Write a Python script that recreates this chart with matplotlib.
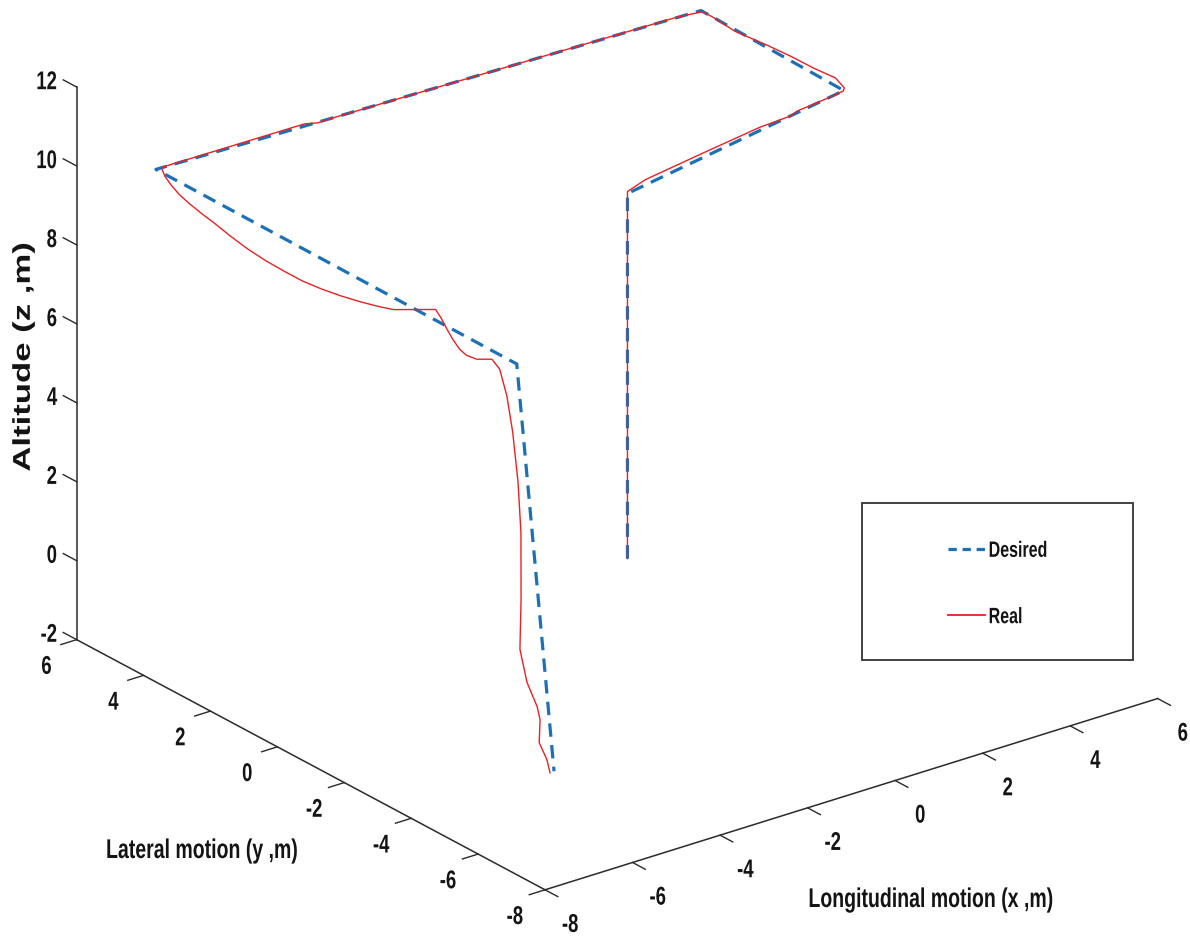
import numpy as np
import matplotlib
matplotlib.use("Agg")
import matplotlib.pyplot as plt
from matplotlib.lines import Line2D
from matplotlib.patches import Rectangle
from matplotlib.patheffects import AbstractPathEffect
from matplotlib.transforms import Affine2D
from mpl_toolkits.mplot3d import proj3d

# Desired trajectory waypoints (m)
desired_x = [0.0, 0.0, 5.9, 6.0, -6.15, -6.2, -6.8]
desired_y = [0.0, 0.0, 1.25, 5.65, 6.05, -4.8, -6.7]
desired_z = [0.0, 9.25, 9.25, 9.25, 9.25, 9.25, 0.0]

# Measured (real) flight path (m)
real_x = [0.0, 0.0, 0.63, 2.10, 3.70, 4.44, 4.67, 5.53, 5.88, 5.98, 6.12, 6.07,
          6.06, 6.02, 5.93, 5.99, 6.00, 5.50, -2.28, -2.56, -2.78, -6.02,
          -6.21, -6.36, -6.49, -6.59, -6.68, -6.76, -6.87, -6.97, -7.03, -7.05,
          -7.05, -6.99, -6.90, -6.78, -6.64, -6.51, -5.90, -6.04, -6.27, -6.46,
          -6.63, -6.69, -6.65, -6.43,
          -6.33, -6.28, -6.30, -6.40, -6.54, -6.82, -7.06, -7.02,
          -6.88, -6.89, -7.01, -6.91, -6.90]
real_y = [0.0, 0.0, 0.29, 0.58, 0.88, 0.94, 1.04, 1.17, 1.24, 1.34, 1.79, 2.38,
          3.05, 3.69, 4.54, 5.22, 5.59, 5.68, 5.92, 5.91, 6.02, 6.06,
          5.70, 5.31, 4.91, 4.48, 4.00, 3.50, 2.91, 2.27, 1.65, 1.05,
          0.49, 0.00, -0.45, -0.87, -1.25, -1.52, -1.98, -2.32, -2.81, -3.23,
          -3.66, -3.94, -4.19, -4.36,
          -4.46, -4.61, -4.81, -5.10, -5.37, -5.74, -6.02, -6.18,
          -6.30, -6.40, -6.53, -6.63, -6.71]
real_z = [0.0, 9.30, 9.25, 9.25, 9.25, 9.25, 9.25, 9.25, 9.25, 9.25, 9.25, 9.25,
          9.25, 9.25, 9.25, 9.25, 9.25, 9.25, 9.25, 9.25, 9.25, 9.25,
          9.25, 9.25, 9.25, 9.25, 9.25, 9.25, 9.25, 9.25, 9.25, 9.25,
          9.25, 9.25, 9.25, 9.25, 9.25, 9.25, 9.25, 9.25, 9.25, 9.25,
          9.25, 9.25, 9.25, 9.25,
          9.01, 8.38, 7.56, 6.46, 5.36, 3.92, 2.87, 2.09,
          1.48, 1.20, 0.72, 0.30, 0.0]

x_ticks = [-8, -6, -4, -2, 0, 2, 4, 6]
y_ticks = [-8, -6, -4, -2, 0, 2, 4, 6]
z_ticks = [-2, 0, 2, 4, 6, 8, 10, 12]

x_label = "Longitudinal motion (x ,m)"
y_label = "Lateral motion (y ,m)"
z_label = "Altitude (z ,m)"
legend_labels = ["Desired", "Real"]

W, H = 1190, 938
FONT = ["Liberation Sans", "DejaVu Sans"]
BLUE = "#1c70b6"
RED = "#ec2024"
AXC = "#2b2b2b"
TXT = "#141414"
DASH = (4.2, 2.6)
SQ = 0.72


class Squeeze(AbstractPathEffect):
    """Draw text glyphs compressed along (or across) the writing direction."""

    def __init__(self, factor, anchor="center", across=False):
        super().__init__()
        self._f = factor
        self._anchor = anchor
        self._across = across

    def draw_path(self, renderer, gc, tpath, affine, rgbFace=None):
        ext = tpath.get_extents()
        if self._across:
            c = 0.5 * (ext.y0 + ext.y1)
            pre = Affine2D().translate(0, -c).scale(1, self._f).translate(0, c)
        else:
            c = {"left": ext.x0, "center": 0.5 * (ext.x0 + ext.x1),
                 "right": ext.x1}[self._anchor]
            pre = Affine2D().translate(-c, 0).scale(self._f, 1).translate(c, 0)
        renderer.draw_path(gc, tpath, pre + affine, rgbFace)


fig = plt.figure(figsize=(W / 100, H / 100), dpi=100, facecolor="white")
ax = fig.add_axes([0, 0, 1, 1], projection="3d", proj_type="ortho",
                  computed_zorder=False)
ax.view_init(elev=24.1, azim=-127.4)
ax.set_box_aspect((1, 1, 0.785))
ax.set_xlim(x_ticks[0], x_ticks[-1])
ax.set_ylim(y_ticks[0], y_ticks[-1])
ax.set_zlim(z_ticks[0], z_ticks[-1])
ax.set_axis_off()

x0, x1 = x_ticks[0], x_ticks[-1]
y0, y1 = y_ticks[0], y_ticks[-1]
z0, z1 = z_ticks[0], z_ticks[-1]

# axis lines (MATLAB-style box corner)
ax.plot([x0, x0], [y1, y1], [z0, z1], color=AXC, lw=1.1, zorder=1)
ax.plot([x0, x0], [y1, y0], [z0, z0], color=AXC, lw=1.1, zorder=1)
ax.plot([x0, x1], [y0, y0], [z0, z0], color=AXC, lw=1.1, zorder=1)
for v in z_ticks:
    ax.plot([x0, x0], [y1, y1 + 0.40], [v, v], color=AXC, lw=1.0, zorder=1)
for v in y_ticks:
    ax.plot([x0, x0 - 0.36], [v, v], [z0, z0], color=AXC, lw=1.0, zorder=1)
for v in x_ticks:
    ax.plot([v, v], [y0, y0 - 0.38], [z0, z0], color=AXC, lw=1.0, zorder=1)

# trajectories
ax.plot(desired_x, desired_y, desired_z, color=BLUE, lw=2.3, dashes=DASH, zorder=3)
ax.plot(real_x, real_y, real_z, color=RED, lw=1.0, zorder=4)

# place the plot box so that its corners land at the intended pixels
fig.canvas.draw()
ref_pts = np.array([[x0, y0, z0], [x1, y0, z0], [x0, y1, z0], [x0, y1, z1]], float)
targets = np.array([[545, H - 890], [1157, H - 701], [77, H - 638], [77, H - 86]], float)


def project(pts):
    pts = np.asarray(pts, float)
    xs, ys, _ = proj3d.proj_transform(pts[:, 0], pts[:, 1], pts[:, 2], ax.get_proj())
    return ax.transData.transform(np.column_stack([xs, ys]))


p = project(ref_pts)
pc = p - p.mean(0)
tc = targets - targets.mean(0)
s = (pc * tc).sum() / (pc ** 2).sum()
t = targets.mean(0) - s * p.mean(0)
bb = ax.get_position()
L, B, side = bb.x0 * W, bb.y0 * H, bb.width * W
ax.set_position([(s * L + t[0]) / W, (s * B + t[1]) / H, s * side / W, s * side / H])

# tick labels, anchored at projected points beside each tick
tick_kw = dict(family=FONT, weight="bold", size=18.5, color=TXT, va="center")


def tick_label(pt, text, ha):
    d = project([pt])[0]
    fig.text(d[0] / W, d[1] / H, text, ha=ha,
             path_effects=[Squeeze(SQ, ha)], **tick_kw)


for v in z_ticks:
    tick_label((x0, y1 + 0.58, v - 0.14), str(v), "right")
for v in y_ticks:
    tick_label((x0 - 0.69, v, z0 - 0.45), str(v), "center")
for v in x_ticks:
    tick_label((v, y0 - 0.75, z0 - 0.55), str(v), "center")

# axis titles
fig.text(23 / W, 1 - 357 / H, z_label, rotation=90, ha="center", va="center",
         family=FONT, weight="bold", size=25, color=TXT,
         path_effects=[Squeeze(0.70, across=True)])
fig.text(202 / W, 1 - 851 / H, y_label, ha="center", va="center",
         family=FONT, weight="bold", size=19.5, color=TXT,
         path_effects=[Squeeze(SQ, "center")])
fig.text(931 / W, 1 - 900 / H, x_label, ha="center", va="center",
         family=FONT, weight="bold", size=19.5, color=TXT,
         path_effects=[Squeeze(SQ, "center")])

# legend
fig.add_artist(Rectangle((862 / W, 1 - 660 / H), 271 / W, 157 / H,
                         transform=fig.transFigure, fill=False,
                         ec="#333333", lw=1.3))
handles = [Line2D([], [], color=BLUE, lw=2.3, dashes=(2.6, 1.8)),
           Line2D([], [], color=RED, lw=1.3)]
leg = fig.legend(handles, legend_labels, loc="center left",
                 bbox_to_anchor=(948 / W, 1 - 584.5 / H),
                 bbox_transform=fig.transFigure,
                 frameon=False, borderpad=0, borderaxespad=0, handlelength=1.67,
                 handletextpad=0.14, labelspacing=2.04,
                 prop=dict(family=FONT, weight="bold", size=16))
for txt in leg.get_texts():
    txt.set_color(TXT)
    txt.set_path_effects([Squeeze(SQ, "left")])

fig.savefig("out.png", dpi=100, facecolor="white")
